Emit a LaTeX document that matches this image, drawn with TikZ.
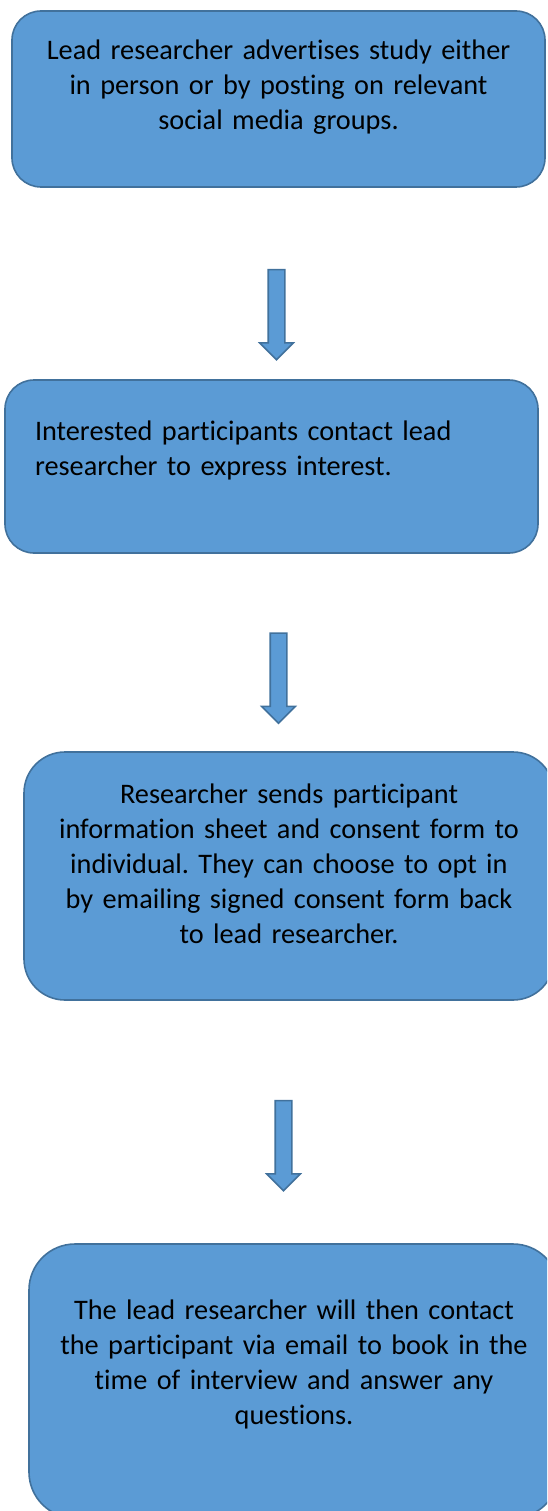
\documentclass[tikz,border=0pt]{standalone}
\usepackage{fontspec}
\setmainfont{Carlito}[Ligatures=NoCommon]
\usetikzlibrary{shapes.arrows}
\frenchspacing

\definecolor{boxblue}{HTML}{5B9BD5}
\definecolor{boxedge}{HTML}{41719C}

\tikzset{
  stepbox/.style={rectangle,rounded corners=#1,fill=boxblue,draw=boxedge,
    line width=1.6pt,minimum width=533pt,text width=495pt,align=center,
    text height=0pt},
  blockarrow/.style={single arrow,shape border rotate=270,fill=boxblue,
    draw=boxedge,line width=1.6pt,minimum height=90pt,inner sep=7.5pt,
    single arrow head extend=8.5pt}
}

\begin{document}
\begin{tikzpicture}
  [x=1pt,y=-1pt,every node/.style={font=\fontsize{28.3}{35}\selectfont}]
  \clip (0,0) rectangle (547,1511);
  \node[stepbox=29pt,minimum height=176pt,text depth=78pt] (advert) at (278.5,99)
    {Lead researcher advertises study either\\ in person or by posting on relevant\\ social media groups.};
  \node[stepbox=29pt,minimum height=173pt,text depth=53pt,text width=473pt,align=left] (contact) at (271.5,466.5)
    {Interested participants contact lead\\ researcher to express interest.};
  \node[stepbox=41pt,minimum width=530pt,minimum height=248pt,text depth=146pt] (consent) at (289,876)
    {Researcher sends participant\\ information sheet and consent form to\\ individual. They can choose to opt in\\ by emailing signed consent form back\\ to lead researcher.};
  \node[stepbox=46pt,minimum width=530pt,minimum height=274pt,text depth=124pt] (booking) at (294,1381)
    {The lead researcher will then contact\\ the participant via email to book in the\\ time of interview and answer any\\ questions.};

  % block arrows between the steps
  \foreach \n/\x/\y in {1/276.5/310.5, 2/278.5/674, 3/283.5/1141.5}
    \node[blockarrow] (arr\n) at (\x,\y) {};

\end{tikzpicture}
\end{document}
